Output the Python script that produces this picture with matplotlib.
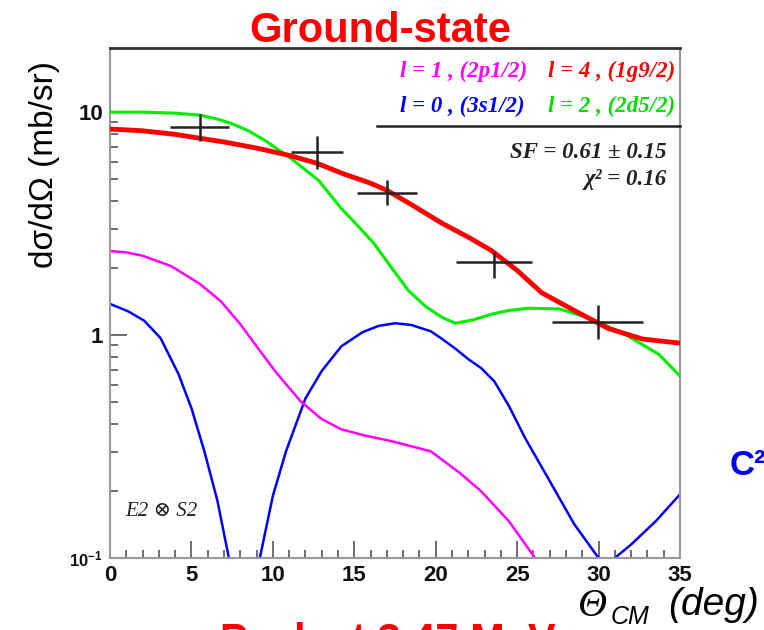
import matplotlib
matplotlib.use("Agg")
import matplotlib.pyplot as plt
from matplotlib.lines import Line2D
from matplotlib.ticker import MultipleLocator, LogLocator, NullFormatter

plt.rcParams['mathtext.default'] = 'regular'

# -----------------------------
# Data
# -----------------------------
# experimental points
theta_exp = [5.5, 12.7, 17.0, 23.6, 29.95]
xs_exp = [8.57, 6.6, 4.36, 2.12, 1.15]
theta_err = [1.8, 1.6, 1.85, 2.34, 2.8]
xs_err_lo = [1.16, 1.05, 0.54, 0.31, 0.19]
xs_err_hi = [1.23, 1.2, 0.58, 0.25, 0.22]

# l = 4, (1g9/2)
theta_l4 = [0, 2, 4, 5.5, 7, 9, 11, 12.7, 14.3, 16, 17, 18.5, 20.4, 22, 23.4, 25, 26.5, 28.5, 30.6, 32.7, 35]
xs_l4 = [8.4, 8.25, 7.95, 7.64, 7.35, 6.9, 6.4, 5.9, 5.3, 4.8, 4.46, 3.85, 3.17, 2.75, 2.40, 1.95, 1.55, 1.29, 1.07, 0.96, 0.92]

# l = 2, (2d5/2)
theta_l2 = [0, 2, 4, 5.5, 6.5, 7.45, 8.5, 9.5, 11.1, 12.8, 14.2, 15.2, 16.2, 17.3, 18.3, 19.4, 20.4, 21.2,
            22.3, 23.4, 24.5, 25.7, 27.6, 29.6, 31.6, 33.7, 35]
xs_l2 = [10.0, 10.0, 9.9, 9.7, 9.35, 8.9, 8.25, 7.48, 6.21, 4.95, 3.7, 3.1, 2.58, 2.0, 1.59, 1.34, 1.20, 1.13,
         1.17, 1.24, 1.29, 1.32, 1.31, 1.18, 1.01, 0.82, 0.655]

# l = 1, (2p1/2)
theta_l1 = [0, 1, 2, 3.75, 5.5, 6.8, 8.0, 9.0, 10.2, 11.7, 13.0, 14.2, 15.6, 17.3, 19.7, 21.5, 22.8, 24.5, 26.1, 27]
xs_l1 = [2.38, 2.35, 2.27, 2.04, 1.7, 1.42, 1.12, 0.89, 0.68, 0.505, 0.42, 0.378, 0.355, 0.334, 0.301, 0.24,
         0.199, 0.146, 0.1, 0.08]

# l = 0, (3s1/2)
theta_l0 = [0, 1.1, 2.1, 3.1, 4.2, 5.0, 5.8, 6.6, 7.3, 8.2, 9.2, 10.0, 10.8, 12.0, 13.0, 14.2, 15.5, 16.5,
            17.5, 18.5, 19.7, 20.4, 21.2, 22.0, 22.8, 23.6, 24.5, 25.5, 26.9, 28.5, 30.0, 30.5, 31.0, 32.0, 33.5, 35]
xs_l0 = [1.38, 1.28, 1.16, 0.97, 0.67, 0.47, 0.30, 0.18, 0.1, 0.04, 0.1, 0.19, 0.30, 0.52, 0.69, 0.89, 1.03, 1.10,
         1.13, 1.11, 1.04, 0.96, 0.87, 0.78, 0.71, 0.62, 0.48, 0.344, 0.228, 0.142, 0.1, 0.085, 0.1, 0.115, 0.146, 0.193]

W, H = 764, 630


def fpos(x, y):
    # pixel position -> figure fraction
    return x / W, 1 - y / H


fig = plt.figure(figsize=(W / 100, H / 100), dpi=100)
ax = fig.add_axes([110 / W, 1 - 558 / H, 570 / W, 510 / H])

# -----------------------------
# Curves
# -----------------------------
ax.plot(theta_l0, xs_l0, color="#0000ff", lw=1.8, zorder=2)
ax.plot(theta_l1, xs_l1, color="#ff00ff", lw=1.8, zorder=2)
ax.plot(theta_l2, xs_l2, color="#00ee00", lw=2.2, zorder=3)
ax.plot(theta_l4, xs_l4, color="#ff0000", lw=3.5, zorder=4)

ax.errorbar(theta_exp, xs_exp, xerr=theta_err, yerr=[xs_err_lo, xs_err_hi],
            fmt="none", ecolor="#222222", elinewidth=1.8, capsize=0, zorder=5)

ax.set_yscale("log")
ax.set_xlim(0, 35)
ax.set_ylim(0.1, 19.4)

ax.xaxis.set_major_locator(MultipleLocator(5))
ax.xaxis.set_minor_locator(MultipleLocator(1))
ax.set_yticks([0.1, 1, 10])
ax.set_yticklabels(["10$^{-1}$", "1", "10"])
ax.yaxis.set_minor_locator(LogLocator(base=10, subs=range(2, 10)))
ax.yaxis.set_minor_formatter(NullFormatter())

ax.tick_params(which="both", direction="in", color="#555555", width=1.2,
               top=False, right=False)
ax.tick_params(which="major", length=12, pad=5)
ax.tick_params(which="minor", length=6)

for lab in ax.get_xticklabels() + ax.get_yticklabels():
    lab.set_family("Liberation Sans")
    lab.set_fontweight("bold")
    lab.set_fontsize(16)
    lab.set_color("#111111")
ax.get_yticklabels()[0].set_fontsize(12)

for side in ["left", "right", "bottom"]:
    ax.spines[side].set_color("#999999")
    ax.spines[side].set_linewidth(1.5)
ax.spines["top"].set_color("#333333")
ax.spines["top"].set_linewidth(2)

# -----------------------------
# Texts
# -----------------------------
fig.text(*fpos(380, 42), "Ground-state", ha="center", va="baseline", color="red",
         fontsize=30, fontweight="bold", family="Liberation Sans")

fig.text(*fpos(45, 165), "dσ/dΩ (mb/sr)", rotation=90, ha="center", va="center",
         fontsize=24, family="Liberation Sans")

leg_font = dict(family=["Liberation Serif", "DejaVu Serif"], style="italic",
                fontweight="bold", fontsize=16.5, va="center", ha="right")
fig.text(*fpos(527, 71), "l = 1 , (2p1/2)", color="#ff00ff", **leg_font)
fig.text(*fpos(675, 71), "l = 4 , (1g9/2)", color="#ff0000", **leg_font)
fig.text(*fpos(525, 106), "l = 0 , (3s1/2)", color="#0000ff", **leg_font)
fig.text(*fpos(675, 106), "l = 2 , (2d5/2)", color="#00dd00", **leg_font)
fig.add_artist(Line2D([377 / W, 680 / W], [1 - 126 / H, 1 - 126 / H],
                      color="#222222", lw=1.8))
fig.text(*fpos(667, 152), "SF = 0.61 ± 0.15", color="#222222", **leg_font)
fig.text(*fpos(667, 180), "χ² = 0.16", color="#222222", **leg_font)

fig.text(*fpos(125, 512), "E2 ⊗ S2", ha="left", va="center", color="#222222",
         fontsize=15, style="italic", family=["Liberation Serif", "DejaVu Serif"])

# partly cut off at the figure edge, as in the reference
fig.text(*fpos(730, 475), "C²", ha="left", va="baseline", color="#0000ee",
         fontsize=25, fontweight="bold", family="Liberation Sans")

fig.text(*fpos(220, 653), "Peak at 3.47 MeV", ha="left", va="baseline", color="red",
         fontsize=30, fontweight="bold", family="Liberation Sans")

# x axis title
fig.text(*fpos(578, 616), "Θ", ha="left", va="baseline", fontsize=29,
         style="italic", family="Liberation Serif")
fig.text(*fpos(611, 624), "CM", ha="left", va="baseline", fontsize=18,
         style="italic", family="Liberation Sans")
fig.text(*fpos(668, 615), "(deg)", ha="left", va="baseline", fontsize=28,
         style="italic", family="Liberation Sans")

fig.savefig("out.png", dpi=100)
